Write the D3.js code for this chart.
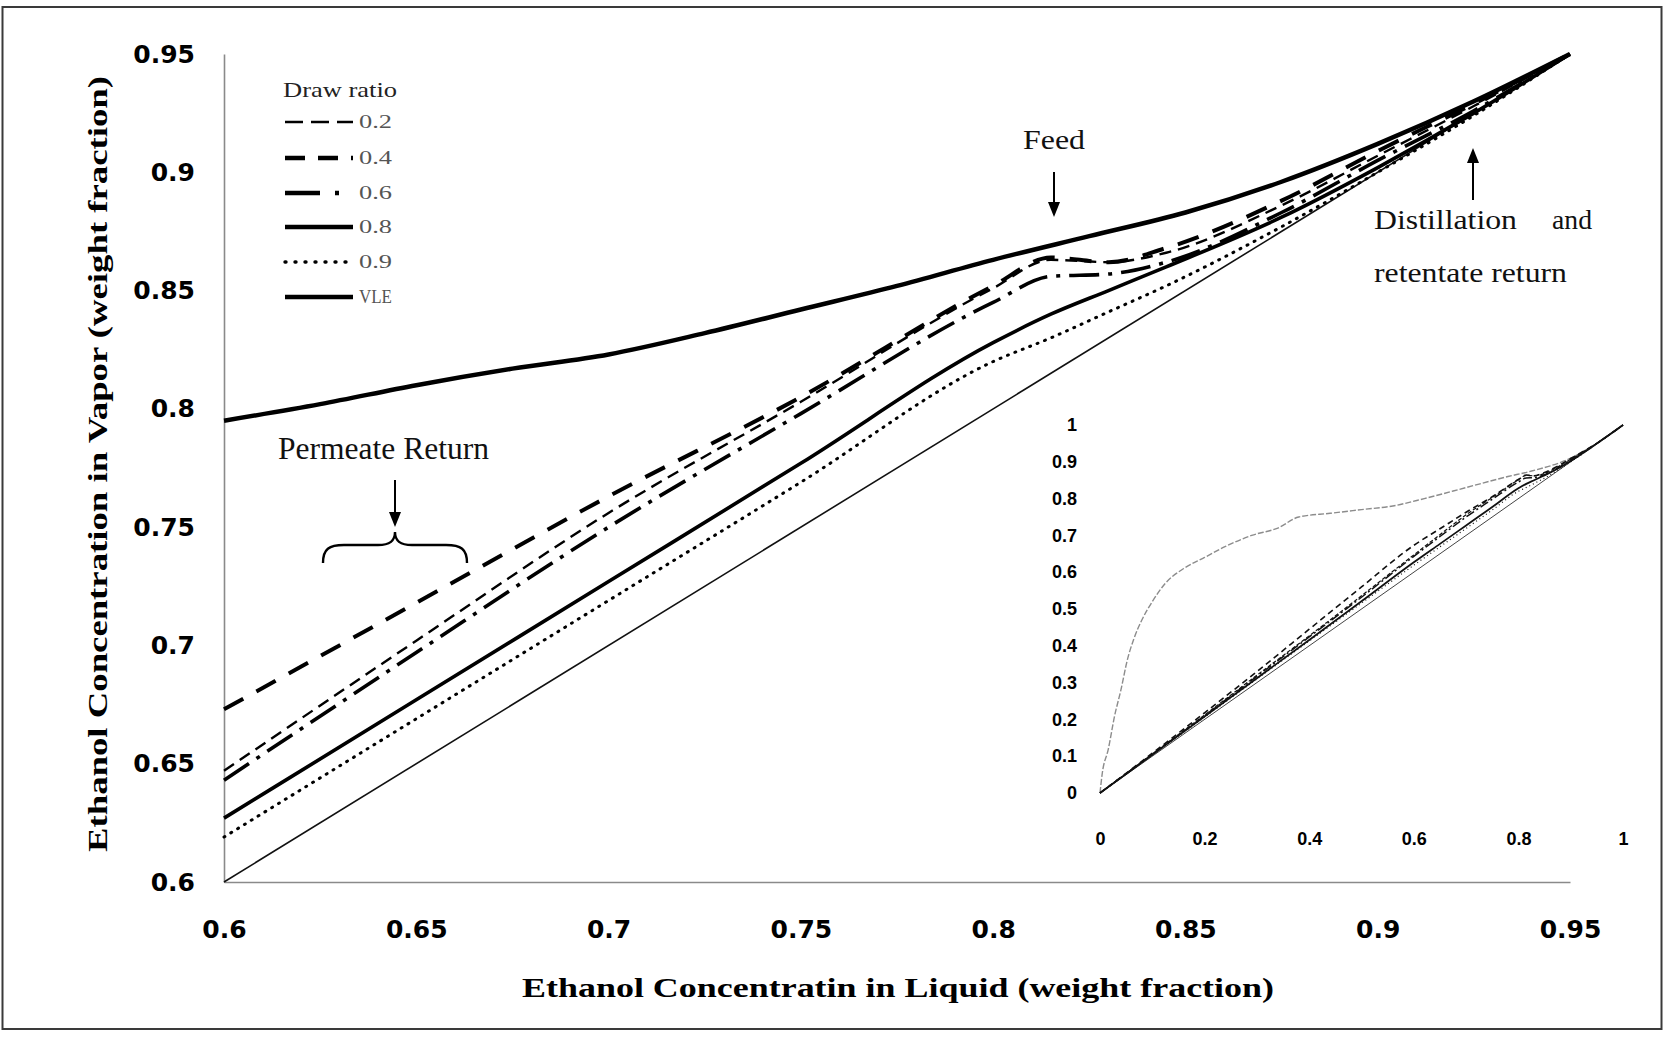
<!DOCTYPE html>
<html><head><meta charset="utf-8">
<script src="https://cdn.jsdelivr.net/npm/d3@7"></script>
<style>body{margin:0;background:#fff}svg{display:block}</style>
</head><body>
<svg id="c" width="1664" height="1037"></svg>
<script>
// ---------- DATA ----------
const xTicks = [0.6, 0.65, 0.7, 0.75, 0.8, 0.85, 0.9, 0.95];
const yTicks = [0.6, 0.65, 0.7, 0.75, 0.8, 0.85, 0.9, 0.95];
const seriesNames = ["0.2", "0.4", "0.6", "0.8", "0.9", "VLE"];

const liquidX = [0.6, 0.65, 0.7, 0.75, 0.8, 0.815, 0.83, 0.845, 0.875, 0.9, 0.925, 0.95];
const draw02 = [0.647, 0.702, 0.756, 0.803, 0.851, 0.863, 0.862, 0.866, 0.886, 0.907, 0.928, 0.95];
const draw04 = [0.673, 0.718, 0.763, 0.805, 0.852, 0.864, 0.862, 0.868, 0.888, 0.909, 0.929, 0.95];
const draw06 = [0.643, 0.697, 0.750, 0.798, 0.845, 0.856, 0.857, 0.862, 0.883, 0.905, 0.926, 0.95];
const draw08 = [0.627, 0.677, 0.727, 0.777, 0.828, 0.840, 0.850, 0.860, 0.881, 0.902, 0.925, 0.95];
const draw09 = [0.619, 0.669, 0.719, 0.769, 0.820, 0.830, 0.841, 0.852, 0.877, 0.900, 0.924, 0.95];

const vleX = [0.6, 0.625, 0.65, 0.675, 0.7, 0.725, 0.75, 0.775, 0.8, 0.825, 0.85, 0.875, 0.9, 0.925, 0.95];
const vleY = [0.795, 0.802, 0.810, 0.817, 0.823, 0.832, 0.842, 0.852, 0.863, 0.873, 0.883, 0.896, 0.912, 0.930, 0.95];

const diagX = [0.6, 0.95];
const diagY = [0.6, 0.95];

// inset (full range 0..1)
const insetXTicks = [0, 0.2, 0.4, 0.6, 0.8, 1];
const insetYTicks = [0, 0.1, 0.2, 0.3, 0.4, 0.5, 0.6, 0.7, 0.8, 0.9, 1];
const insetLowX = [0, 0.1, 0.2, 0.3, 0.4, 0.5];
const insetLow02 = [0, 0.106, 0.212, 0.320, 0.427, 0.536];
const insetLow04 = [0, 0.108, 0.218, 0.330, 0.445, 0.560];
const insetLow06 = [0, 0.105, 0.210, 0.317, 0.424, 0.532];
const insetLow08 = [0, 0.104, 0.208, 0.312, 0.416, 0.521];
const insetLow09 = [0, 0.103, 0.206, 0.310, 0.413, 0.516];
const insetEndX = [1];
const insetEndY = [1];
const insetVleX = [0, 0.004, 0.016, 0.028, 0.04, 0.052, 0.065, 0.08, 0.1, 0.125, 0.16, 0.2, 0.24, 0.29, 0.34, 0.38, 0.44, 0.5, 0.56, 0.62, 0.7, 0.78, 0.82, 0.9, 0.95, 1];
const insetVleY = [0, 0.05, 0.12, 0.21, 0.28, 0.36, 0.42, 0.47, 0.52, 0.57, 0.61, 0.64, 0.67, 0.70, 0.72, 0.75, 0.76, 0.77, 0.78, 0.80, 0.83, 0.86, 0.873, 0.91, 0.95, 1];
const insetDiagX = [0, 1];
const insetDiagY = [0, 1];

// ---------- STYLES ----------
const styles = {
  "0.2": {w: 2.4, dash: "12,7", iw: 1.2, idash: "4,2"},
  "0.4": {w: 4, dash: "22,15", iw: 1.6, idash: "6,4"},
  "0.6": {w: 3.6, dash: "30,9,4,9", iw: 1.5, idash: "9,3,2,3"},
  "0.8": {w: 3.6, dash: null, iw: 1.8, idash: null},
  "0.9": {w: 3, dash: "1,7", iw: 1.2, idash: "1,3"},
  "VLE": {w: 4.5, dash: null}
};
const legendStyles = {
  "0.2": {w: 2.4, dash: "18,8"},
  "0.4": {w: 4.5, dash: "20,13"},
  "0.6": {w: 4.5, dash: "35,15,4,15"},
  "0.8": {w: 4.5, dash: null},
  "0.9": {w: 3.4, dash: "1,9"},
  "VLE": {w: 4.5, dash: null}
};

const svg = d3.select("#c");
svg.append("rect").attr("width", 1664).attr("height", 1037).attr("fill", "#fff");
svg.append("rect").attr("x", 2.5).attr("y", 7).attr("width", 1659).attr("height", 1022)
  .attr("fill", "none").attr("stroke", "#3a3a3a").attr("stroke-width", 2);

const x = d3.scaleLinear().domain([0.6, 0.95]).range([224, 1570]);
const y = d3.scaleLinear().domain([0.6, 0.95]).range([882, 54]);

// axes
const fmt = d => String(+d.toFixed(2));
const ax = svg.append("g").attr("transform", `translate(0,${y(0.6)})`)
  .call(d3.axisBottom(x).tickValues(xTicks).tickFormat(fmt).tickSize(0).tickSizeOuter(0).tickPadding(38));
const ay = svg.append("g").attr("transform", `translate(${x(0.6)},0)`)
  .call(d3.axisLeft(y).tickValues(yTicks).tickFormat(fmt).tickSize(0).tickSizeOuter(0).tickPadding(29));
[ax, ay].forEach(g => {
  g.select(".domain").attr("stroke", "#8a8a8a").attr("stroke-width", 1.6);
  g.selectAll("text").attr("font-family", "DejaVu Sans").attr("font-weight", "bold")
    .attr("font-size", 25).attr("fill", "#000");
});

const line = (xs, ys, sx, sy) => d3.line().curve(d3.curveMonotoneX)
  .x((d, i) => sx(xs[i])).y(d => sy(d))(ys);

// main series
const mainSeries = [
  {name: "0.2", xs: liquidX, ys: draw02},
  {name: "0.4", xs: liquidX, ys: draw04},
  {name: "0.6", xs: liquidX, ys: draw06},
  {name: "0.8", xs: liquidX, ys: draw08},
  {name: "0.9", xs: liquidX, ys: draw09},
  {name: "VLE", xs: vleX, ys: vleY}
];
svg.append("path").attr("d", line(diagX, diagY, x, y)).attr("fill", "none")
  .attr("stroke", "#111").attr("stroke-width", 1.6);
mainSeries.forEach(s => {
  const st = styles[s.name];
  svg.append("path").attr("d", line(s.xs, s.ys, x, y)).attr("fill", "none")
    .attr("stroke", "#000").attr("stroke-width", st.w)
    .attr("stroke-dasharray", st.dash)
    .attr("stroke-linecap", s.name === "0.9" ? "round" : "butt");
});

// legend
const serif = "Liberation Serif";
svg.append("text").attr("x", 283).attr("y", 97).text("Draw ratio")
  .attr("font-family", serif).attr("font-size", 21).attr("fill", "#222")
  .attr("textLength", 114).attr("lengthAdjust", "spacingAndGlyphs");
const rowsY = [122, 158, 193, 227, 262, 297];
seriesNames.forEach((n, i) => {
  const st = legendStyles[n];
  svg.append("line").attr("x1", 285).attr("x2", 353).attr("y1", rowsY[i]).attr("y2", rowsY[i])
    .attr("stroke", "#000").attr("stroke-width", st.w).attr("stroke-dasharray", st.dash)
    .attr("stroke-linecap", n === "0.9" ? "round" : "butt");
  svg.append("text").attr("x", 359).attr("y", rowsY[i] + 6).text(n)
    .attr("font-family", serif).attr("font-size", 18).attr("fill", "#555")
    .attr("textLength", 33).attr("lengthAdjust", "spacingAndGlyphs");
});

// axis titles
svg.append("text").attr("x", 898).attr("y", 997).attr("text-anchor", "middle")
  .text("Ethanol Concentratin in Liquid (weight fraction)")
  .attr("font-family", serif).attr("font-weight", "bold").attr("font-size", 28)
  .attr("textLength", 752).attr("lengthAdjust", "spacingAndGlyphs");
svg.append("text").attr("transform", "translate(107,464) rotate(-90)").attr("text-anchor", "middle")
  .text("Ethanol Concentration in Vapor (weight fraction)")
  .attr("font-family", serif).attr("font-weight", "bold").attr("font-size", 28)
  .attr("textLength", 776).attr("lengthAdjust", "spacingAndGlyphs");

// annotations
function txt(s, tx, ty, len, fs) {
  svg.append("text").attr("x", tx).attr("y", ty).text(s)
    .attr("font-family", serif).attr("font-size", fs).attr("fill", "#111")
    .attr("textLength", len).attr("lengthAdjust", "spacingAndGlyphs");
}
function arrow(ax0, y0, y1) { // from y0 to tip y1
  const dir = y1 > y0 ? 1 : -1;
  svg.append("line").attr("x1", ax0).attr("x2", ax0).attr("y1", y0).attr("y2", y1 - dir * 12)
    .attr("stroke", "#000").attr("stroke-width", 2);
  svg.append("path").attr("d", `M${ax0 - 6},${y1 - dir * 15}L${ax0 + 6},${y1 - dir * 15}L${ax0},${y1}Z`)
    .attr("fill", "#000");
}
txt("Feed", 1023, 149, 62, 28);
arrow(1054, 172, 217);
txt("Distillation", 1374, 229, 143, 28);
txt("and", 1552, 229, 40, 28);
txt("retentate return", 1374, 282, 193, 28);
arrow(1473, 200, 148);
txt("Permeate Return", 278, 459, 211, 32);
arrow(395, 480, 527);
svg.append("path")
  .attr("d", "M323,563 C323,549 329,545 344,545 L378,545 C390,545 395,541 395,532 C395,541 400,545 412,545 L446,545 C461,545 467,549 467,563")
  .attr("fill", "none").attr("stroke", "#000").attr("stroke-width", 2.4);

// ---------- INSET ----------
const ix = d3.scaleLinear().domain([0, 1]).range([1100, 1623]);
const iy = d3.scaleLinear().domain([0, 1]).range([793, 425]);
const ifmt = d => String(+d.toFixed(1));
const iax = svg.append("g").attr("transform", `translate(0,${iy(0)})`)
  .call(d3.axisBottom(ix).tickValues(insetXTicks).tickFormat(ifmt).tickSize(0).tickPadding(39));
const iay = svg.append("g").attr("transform", `translate(${ix(0)},0)`)
  .call(d3.axisLeft(iy).tickValues(insetYTicks).tickFormat(ifmt).tickSize(0).tickPadding(23));
[iax, iay].forEach(g => {
  g.select(".domain").attr("stroke", "none");
  g.selectAll("text").attr("font-family", "Liberation Sans").attr("font-weight", "bold")
    .attr("font-size", 18).attr("fill", "#000");
});
svg.append("path").attr("d", line(insetVleX, insetVleY, ix, iy)).attr("fill", "none")
  .attr("stroke", "#8c8c8c").attr("stroke-width", 1.4).attr("stroke-dasharray", "6,2");
svg.append("path").attr("d", line(insetDiagX, insetDiagY, ix, iy)).attr("fill", "none")
  .attr("stroke", "#444").attr("stroke-width", 1);
const insetSeries = [
  {name: "0.2", low: insetLow02, main: draw02},
  {name: "0.4", low: insetLow04, main: draw04},
  {name: "0.6", low: insetLow06, main: draw06},
  {name: "0.9", low: insetLow09, main: draw09},
  {name: "0.8", low: insetLow08, main: draw08}
];
insetSeries.forEach(s => {
  const st = styles[s.name];
  const xs = insetLowX.concat(liquidX, insetEndX);
  const ys = s.low.concat(s.main, insetEndY);
  svg.append("path").attr("d", line(xs, ys, ix, iy)).attr("fill", "none")
    .attr("stroke", "#111").attr("stroke-width", st.iw).attr("stroke-dasharray", st.idash);
});
</script>
</body></html>
